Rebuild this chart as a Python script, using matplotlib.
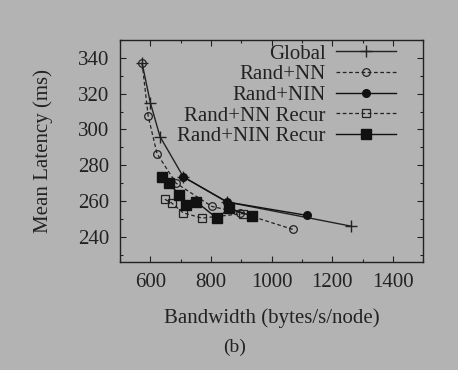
import matplotlib
matplotlib.use("Agg")
import matplotlib.pyplot as plt
from matplotlib.ticker import MultipleLocator

# values (bandwidth bytes/s/node, latency ms)
global_x = [573, 600, 632, 709, 853, 1262]
global_y = [337, 315, 296, 273.5, 259.5, 246]

nn_x = [573, 593, 622, 685, 803, 897, 1070]
nn_y = [337, 307.5, 286.5, 270, 257, 253.5, 244.2]

nin_x = [709, 853, 1117]
nin_y = [273.5, 259.5, 252]

nn_recur_x = [648, 670, 708, 770, 905]
nn_recur_y = [261, 259, 253.5, 250.5, 253]

nin_recur_x = [638, 660, 696, 718, 751, 820, 861, 935]
nin_recur_y = [273.7, 270.3, 263.4, 257.8, 259.7, 250.4, 256, 251.6]

bg = '#b3b3b3'
fs = 15
plt.rcParams['font.family'] = ['Liberation Serif', 'DejaVu Serif']

fig = plt.figure(figsize=(4.58, 3.70), dpi=100, facecolor=bg)
ax = fig.add_axes([0.262, 0.292, 0.662, 0.600], facecolor=bg)

ax.plot(global_x, global_y, '-', color='#222222', lw=1.0, marker='+', ms=8,
        mew=1.0, label='Global')
ax.plot(nn_x, nn_y, '--', color='#222222', lw=0.9, marker='o', ms=5.5,
        mfc='none', mew=0.9, dashes=(3, 2), label='Rand+NN')
ax.plot(nin_x, nin_y, '-', color='#111111', lw=1.0, marker='o', ms=5.5,
        label='Rand+NIN')
ax.plot(nn_recur_x, nn_recur_y, '--', color='#222222', lw=0.9, marker='s',
        ms=5.5, mfc='none', mew=0.9, dashes=(3, 2), label='Rand+NN Recur')
ax.plot(nin_recur_x, nin_recur_y, '-', color='#111111', lw=1.0, marker='s',
        ms=6.5, label='Rand+NIN Recur')

ax.set_xlim(500, 1500)
ax.set_ylim(226, 350)
ax.set_xticks([600, 800, 1000, 1200, 1400])
ax.set_yticks([240, 260, 280, 300, 320, 340])
ax.xaxis.set_minor_locator(MultipleLocator(100))
ax.yaxis.set_minor_locator(MultipleLocator(10))
ax.tick_params(which='both', direction='in', top=True, right=True,
               labelsize=fs, colors='#222222', width=0.8)
ax.tick_params(which='major', length=4)
ax.tick_params(axis='x', which='major', pad=8)
ax.tick_params(axis='y', which='major', pad=8)
ax.tick_params(which='minor', length=2)
for s in ax.spines.values():
    s.set_linewidth(1.0)
    s.set_color('#222222')

ax.set_xlabel('Bandwidth (bytes/s/node)', fontsize=fs, color='#222222',
              labelpad=12)
ax.set_ylabel('Mean Latency (ms)', fontsize=fs, color='#222222',
              labelpad=18)

leg = ax.legend(loc='upper right', bbox_to_anchor=(0.925, 1.0),
                frameon=False, markerfirst=False,
                fontsize=fs, handlelength=2.9, labelspacing=0.05,
                borderaxespad=0.0, handletextpad=0.5, borderpad=0.2)
for t in leg.get_texts():
    t.set_ha('right')
    t.set_color('#222222')

fig.text(0.513, 0.05, '(b)', fontsize=fs - 1, ha='center', color='#222222')

fig.savefig('out.png', dpi=100, facecolor=bg)
